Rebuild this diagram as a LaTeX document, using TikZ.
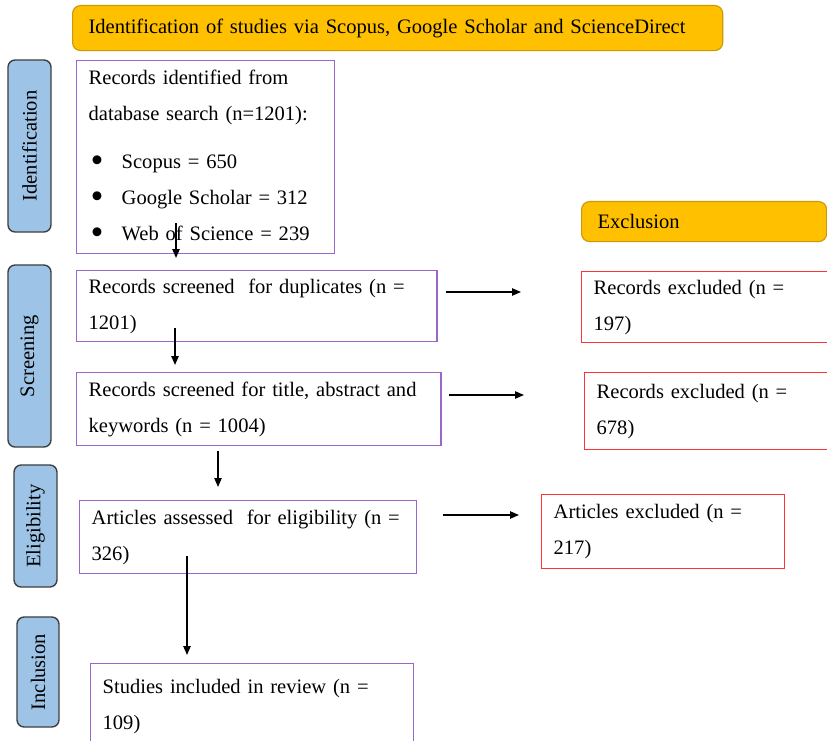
\documentclass[tikz,border=0pt]{standalone}
\usepackage{fontspec}
\setmainfont{Liberation Serif}
\usepackage{tikz}
\usetikzlibrary{arrows.meta,calc,positioning}

\definecolor{bannerfill}{HTML}{FFC000}
\definecolor{bannerline}{HTML}{C99A06}
\definecolor{phasefill}{HTML}{9DC3E6}
\definecolor{phaseline}{HTML}{3F3F3F}
\definecolor{boxpurple}{HTML}{9966CC}
\definecolor{boxred}{HTML}{FF3333}

\newcommand{\recbullet}{\hspace*{0.05cm}\makebox[0.775cm][l]{\raisebox{-0.17em}{\scalebox{1.8}{\textbullet}}}}

\begin{document}
\begin{tikzpicture}[x=0.025cm, y=-0.025cm, font=\fontsize{14.6}{25.6}\selectfont,
    banner/.style={draw=bannerline, fill=bannerfill, rounded corners=0.2cm, line width=0.8pt, anchor=north west, align=left, inner xsep=0.4cm, inner ysep=0pt},
    phase/.style={draw=phaseline, fill=phasefill, rounded corners=0.18cm, line width=1pt, rotate=90, minimum height=1.075cm, inner sep=0pt},
    stagebox/.style={draw=boxpurple, line width=1pt, anchor=north west, align=left, inner xsep=0.3cm, inner ysep=0pt},
    exclbox/.style={draw=boxred, line width=1pt, anchor=north west, align=left, inner xsep=0.3cm, inner ysep=0pt},
    flow/.style={-{Triangle[length=0.22cm, width=0.18cm]}, line width=1pt}]

    \useasboundingbox[fill=white] (0,0) rectangle (827,741);

    \node[banner, minimum width=16.25cm, minimum height=1.125cm, text width=15.45cm] (idbanner) at (72,5)  {Identification of studies via Scopus, Google Scholar and ScienceDirect};
    \node[banner, minimum width=6.125cm, minimum height=1cm, text width=5.325cm]      (exbanner) at (581,201) {Exclusion};

    \node[phase, minimum width=4.3cm]  (phIdent)  at (29.5,146) {Identification};
    \node[phase, minimum width=4.55cm] (phScreen) at (29.5,356) {Screening};
    \node[phase, minimum width=3.05cm] (phElig)   at (35.5,526) {Eligibility};
    \node[phase, minimum width=2.75cm, minimum height=1.05cm] (phIncl) at (38,672) {Inclusion};

    \node[stagebox, text width=5.85cm, minimum height=4.825cm] (ident) at (76,60)
        {Records identified from\\ database search (n=1201):\\[0.3cm]
         \recbullet Scopus = 650\\ \recbullet Google Scholar = 312\\ \recbullet Web of Science = 239};
    \node[stagebox, text width=8.4cm, minimum height=1.775cm]   (dup)     at (76,270) {Records screened\ \ for duplicates (n =\\ 1201)};
    \node[stagebox, text width=8.5cm, minimum height=1.825cm]   (titlekw) at (76,372) {Records screened for title, abstract and\\ keywords (n = 1004)};
    \node[stagebox, text width=7.825cm, minimum height=1.825cm] (elig)    at (79,500) {Articles assessed\ \ for eligibility (n =\\ 326)};
    \node[stagebox, text width=7.475cm, minimum height=2.125cm] (incl)    at (90,663) {Studies included in review (n =\\ 109)};

    \node[exclbox, text width=5.7cm, minimum height=1.775cm]   (exclA) at (581,271) {Records excluded (n =\\ 197)};
    \node[exclbox, text width=5.7cm, minimum height=1.925cm]   (exclB) at (584,372) {Records excluded (n =\\ 678)};
    \node[exclbox, text width=5.475cm, minimum height=1.85cm]  (exclC) at (541,494) {Articles excluded (n =\\ 217)};

    \draw[flow] ($(ident.south west)+(100,-31)$) -- ($(dup.north west)+(100,-12)$);
    \draw[flow] ($(dup.south west)+(99,-14)$) -- ($(titlekw.north west)+(99,-7)$);
    \draw[flow] ($(titlekw.south west)+(142,5)$) -- ($(elig.north west)+(139,-13)$);
    \draw[flow] ($(elig.south west)+(108,-18)$) -- ($(incl.north west)+(97,-8)$);

    \draw[flow] ($(dup.north east)+(8,22)$) -- ($(exclA.north west)+(-60,21)$);
    \draw[flow] ($(titlekw.north east)+(7,23)$) -- ($(exclB.north west)+(-60,23)$);
    \draw[flow] ($(elig.north east)+(25,15)$) -- ($(exclC.north west)+(-22,21)$);

\end{tikzpicture}
\end{document}
